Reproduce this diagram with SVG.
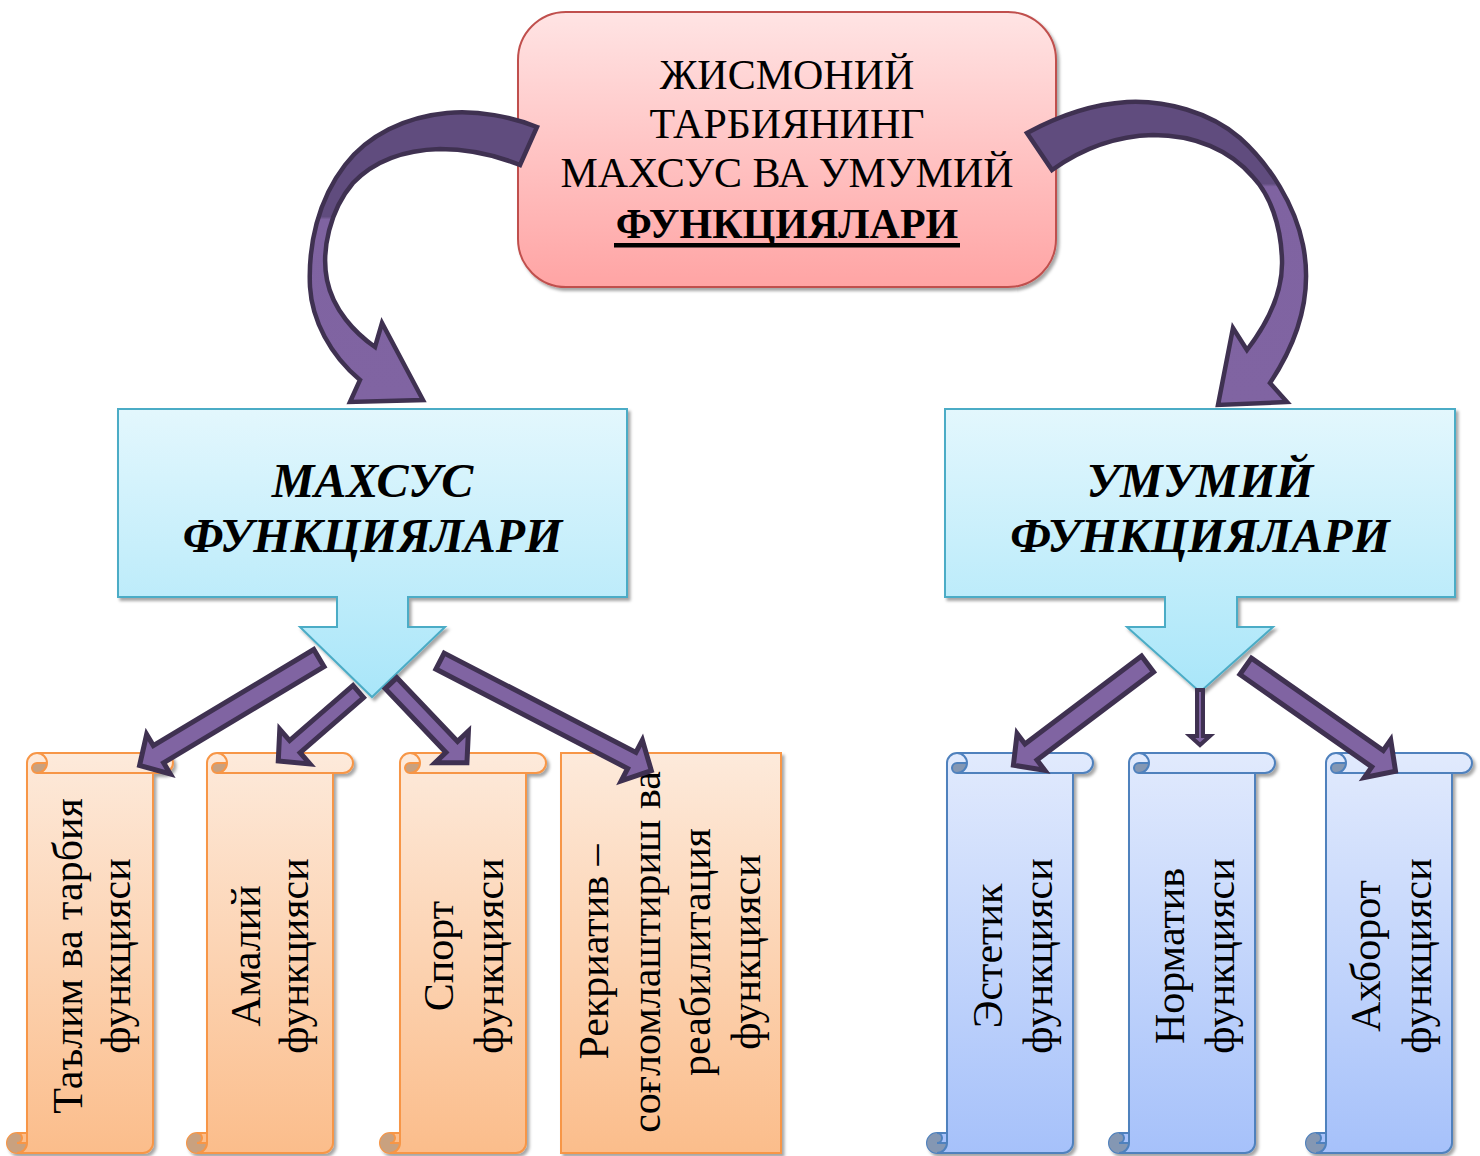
<svg xmlns="http://www.w3.org/2000/svg" xmlns:xlink="http://www.w3.org/1999/xlink" width="1480" height="1156" viewBox="0 0 1480 1156">
<defs>
<linearGradient id="gPink" x1="0" y1="0" x2="0" y2="1"><stop offset="0" stop-color="#ffe4e4"/><stop offset="1" stop-color="#ffa4a4"/></linearGradient>
<linearGradient id="gCyan" x1="0" y1="0" x2="0" y2="1"><stop offset="0" stop-color="#e3f7fd"/><stop offset="1" stop-color="#a9e6f9"/></linearGradient>
<linearGradient id="gOr" x1="0" y1="0" x2="0" y2="1"><stop offset="0" stop-color="#fdeadb"/><stop offset="1" stop-color="#fbbd8b"/></linearGradient>
<linearGradient id="gBl" x1="0" y1="0" x2="0" y2="1"><stop offset="0" stop-color="#e1eafd"/><stop offset="1" stop-color="#a6c1fa"/></linearGradient>
<linearGradient id="gCurveL" x1="0" y1="0" x2="0" y2="1"><stop offset="0" stop-color="#604c7e"/><stop offset="0.36" stop-color="#604c7e"/><stop offset="0.37" stop-color="#7f63a1"/><stop offset="1" stop-color="#8064a2"/></linearGradient>
<linearGradient id="gCurveR" x1="0" y1="0" x2="0" y2="1"><stop offset="0" stop-color="#604c7e"/><stop offset="0.27" stop-color="#604c7e"/><stop offset="0.28" stop-color="#7f63a1"/><stop offset="1" stop-color="#8064a2"/></linearGradient>
<filter id="sh" x="-10%" y="-10%" width="120%" height="120%"><feDropShadow dx="2.5" dy="3" stdDeviation="1.5" flood-color="#000" flood-opacity="0.35"/></filter>
<path id="scMain" d="M20,380 V10 A10,10 0 0 1 30,0 H156 A10,10 0 0 1 156,20 H146 V390 A10,10 0 0 1 136,400 H10 A10,10 0 0 1 10,380 Z"/>
<path id="scDark" d="M40,10 A10,10 0 0 1 30,20 A5,5 0 0 1 30,10 Z M20,390 A10,10 0 1 1 10,380 A5,5 0 0 1 10,390 Z"/>
<path id="scLines" fill="none" d="M30,0 A10,10 0 0 1 30,20 A5,5 0 0 1 30,10 L40,10 M146,20 H30 M10,380 A5,5 0 0 1 10,390 H20 M10,400 A10,10 0 0 0 20,390 V380"/>
</defs>
<style>
.t{font-family:"Liberation Serif","Times New Roman",serif;fill:#000}
.top{font-size:42px}
.mid{font-size:48px;font-weight:bold;font-style:italic}
.vt{font-size:42px}
.or .main{fill:url(#gOr);stroke:#f79646;stroke-width:2}
.or .dark{fill:#c9a17f}
.or .lines{stroke:#f79646;stroke-width:2}
.bl .main{fill:url(#gBl);stroke:#4f81bd;stroke-width:2}
.bl .dark{fill:#8497b3}
.bl .lines{stroke:#4f81bd;stroke-width:2}
.blk{fill:#8064a2;stroke:#3f3151;stroke-width:5;stroke-linejoin:miter;stroke-miterlimit:10}
.curve{stroke:#3f3151;stroke-width:4.5;stroke-linejoin:miter}
</style>
<rect width="1480" height="1156" fill="#fff"/>

<g id="node-top">
<rect x="518" y="12" width="538" height="275" rx="48" fill="url(#gPink)" stroke="#c0504d" stroke-width="2" filter="url(#sh)"/>
<text class="t top" text-anchor="middle" x="787" y="89">ЖИСМОНИЙ</text>
<text class="t top" text-anchor="middle" x="787" y="138">ТАРБИЯНИНГ</text>
<text class="t top" text-anchor="middle" x="787" y="187">МАХСУС ВА УМУМИЙ</text>
<text class="t top" text-anchor="middle" x="787" y="238" font-weight="bold">ФУНКЦИЯЛАРИ</text>
<rect x="614" y="243" width="346" height="4.5" fill="#000"/>
</g>

<g id="node-maxsus">
<path d="M118,409 H627 V597 H408 V627 H445 L372,697 L300,627 H337 V597 H118 Z" fill="url(#gCyan)" stroke="#4bacc6" stroke-width="2" filter="url(#sh)"/>
<text class="t mid" text-anchor="middle" x="372.5" y="497">МАХСУС</text>
<text class="t mid" text-anchor="middle" x="372.5" y="552">ФУНКЦИЯЛАРИ</text>
</g>

<g id="node-umumiy">
<path d="M945,409 H1455 V597 H1237 V627 H1273 L1200,692 L1127,627 H1165 V597 H945 Z" fill="url(#gCyan)" stroke="#4bacc6" stroke-width="2" filter="url(#sh)"/>
<text class="t mid" text-anchor="middle" x="1200" y="497">УМУМИЙ</text>
<text class="t mid" text-anchor="middle" x="1200" y="552">ФУНКЦИЯЛАРИ</text>
</g>

<g id="node-talim" class="or">
<g transform="translate(7,753)" filter="url(#sh)"><use href="#scMain" class="main"/><use href="#scDark" class="dark"/><use href="#scLines" class="lines"/></g>
<text class="t vt" text-anchor="middle" transform="translate(82,956) rotate(-90)">Таълим ва тарбия</text>
<text class="t vt" text-anchor="middle" transform="translate(130,956) rotate(-90)">функцияси</text>
</g>

<g id="node-amaliy" class="or">
<g transform="translate(187,753)" filter="url(#sh)"><use href="#scMain" class="main"/><use href="#scDark" class="dark"/><use href="#scLines" class="lines"/></g>
<text class="t vt" text-anchor="middle" transform="translate(260,956) rotate(-90)">Амалий</text>
<text class="t vt" text-anchor="middle" transform="translate(308,956) rotate(-90)">функцияси</text>
</g>

<g id="node-sport" class="or">
<g transform="translate(380,753)" filter="url(#sh)"><use href="#scMain" class="main"/><use href="#scDark" class="dark"/><use href="#scLines" class="lines"/></g>
<text class="t vt" text-anchor="middle" transform="translate(453,956) rotate(-90)">Спорт</text>
<text class="t vt" text-anchor="middle" transform="translate(503,956) rotate(-90)">функцияси</text>
</g>

<g id="node-rekriativ">
<rect x="561" y="753" width="220" height="400" fill="url(#gOr)" stroke="#f79646" stroke-width="2" filter="url(#sh)"/>
<text class="t vt" text-anchor="middle" transform="translate(608,952) rotate(-90)">Рекриатив –</text>
<text class="t vt" text-anchor="middle" transform="translate(660,952) rotate(-90)">соғломлаштириш ва</text>
<text class="t vt" text-anchor="middle" transform="translate(710,952) rotate(-90)">реабилитация</text>
<text class="t vt" text-anchor="middle" transform="translate(760,952) rotate(-90)">функцияси</text>
</g>

<g id="node-estetik" class="bl">
<g transform="translate(927,753)" filter="url(#sh)"><use href="#scMain" class="main"/><use href="#scDark" class="dark"/><use href="#scLines" class="lines"/></g>
<text class="t vt" text-anchor="middle" transform="translate(1002,956) rotate(-90)">Эстетик</text>
<text class="t vt" text-anchor="middle" transform="translate(1052,956) rotate(-90)">функцияси</text>
</g>

<g id="node-normativ" class="bl">
<g transform="translate(1109,753)" filter="url(#sh)"><use href="#scMain" class="main"/><use href="#scDark" class="dark"/><use href="#scLines" class="lines"/></g>
<text class="t vt" text-anchor="middle" transform="translate(1184,956) rotate(-90)">Норматив</text>
<text class="t vt" text-anchor="middle" transform="translate(1234,956) rotate(-90)">функцияси</text>
</g>

<g id="node-axborot" class="bl">
<g transform="translate(1306,753)" filter="url(#sh)"><use href="#scMain" class="main"/><use href="#scDark" class="dark"/><use href="#scLines" class="lines"/></g>
<text class="t vt" text-anchor="middle" transform="translate(1380,956) rotate(-90)">Ахборот</text>
<text class="t vt" text-anchor="middle" transform="translate(1431,956) rotate(-90)">функцияси</text>
</g>

<g id="connectors">
<path class="curve" fill="url(#gCurveL)" d="M537,127 C512,117 478,110 447,113 C405,117 368,135 345,165 C318,200 308,245 310,287 C312,320 330,355 360,380 L350,402 L423,400 L382,323 L375,347 C355,333 333,310 327,280 C321,250 330,210 353,183 C375,160 405,150 440,149 C470,149 500,157 520,165 Z"/>
<path class="curve" fill="url(#gCurveR)" d="M1027,133 C1060,115 1095,104 1127,102 C1165,100 1210,112 1240,138 C1270,165 1295,205 1303,245 C1312,290 1302,335 1270,383 L1287,402 L1218,405 L1233,328 L1247,350 C1270,320 1283,290 1282,260 C1281,225 1270,195 1253,177 C1230,150 1195,135 1153,135 C1115,136 1080,150 1052,170 Z"/>
<polygon class="blk" transform="translate(137,767) rotate(149.1)" points="-212,-10 -25,-10 -25,-23 -3,0 -25,23 -25,10 -212,10"/>
<polygon class="blk" transform="translate(276,763) rotate(139)" points="-109,-8 -25,-8 -25,-23 -3,0 -25,23 -25,8 -109,8"/>
<polygon class="blk" transform="translate(469,765) rotate(46.4)" points="-113,-8 -25,-8 -25,-23 -3,0 -25,23 -25,8 -113,8"/>
<polygon class="blk" transform="translate(654,772) rotate(27.4)" points="-241,-9 -25,-9 -25,-23 -3,0 -25,23 -25,9 -241,9"/>
<polygon class="blk" transform="translate(1011,767) rotate(143)" points="-171,-10 -25,-10 -25,-23 -3,0 -25,23 -25,10 -171,10"/>
<polygon class="blk" style="stroke-width:4" transform="translate(1200,747) rotate(90)" points="-57,-3 -11,-3 -11,-10 -2,0 -11,10 -11,3 -57,3"/>
<polygon class="blk" transform="translate(1398,773) rotate(35)" points="-186,-10 -25,-10 -25,-23 -3,0 -25,23 -25,10 -186,10"/>
</g>
</svg>
